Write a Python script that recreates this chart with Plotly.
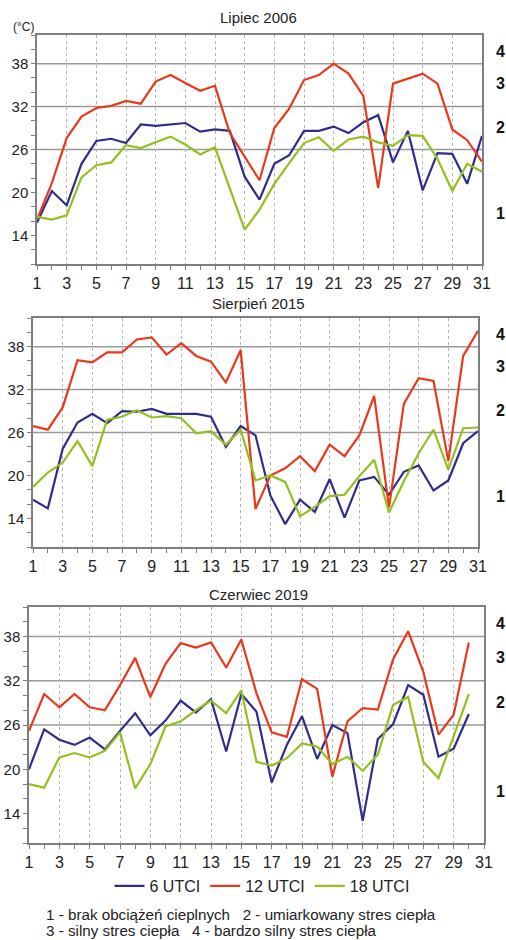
import plotly.graph_objects as go

# ---------------- data ----------------
days_31 = list(range(1, 32))
days_30 = list(range(1, 31))

series_names = ["6 UTCI", "12 UTCI", "18 UTCI"]
series_colors = ["#2e2d8c", "#e8391d", "#93c01f"]

panel_titles = ["Lipiec 2006", "Sierpień 2015", "Czerwiec 2019"]

jul06_6 = [15.8, 20.2, 18.2, 24.0, 27.2, 27.5, 26.9, 29.5, 29.3, 29.5, 29.7, 28.5, 28.8, 28.6, 22.2, 19.0,
           24.0, 25.2, 28.6, 28.6, 29.2, 28.3, 29.8, 30.8, 24.2, 28.6, 20.3, 25.5, 25.4, 21.2, 27.9]
jul06_12 = [16.2, 21.3, 27.6, 30.6, 31.8, 32.1, 32.8, 32.4, 35.5, 36.4, 35.3, 34.2, 34.9, 28.3, 25.0, 21.7,
            29.0, 31.7, 35.7, 36.4, 38.0, 36.6, 33.5, 20.6, 35.2, 35.9, 36.6, 35.2, 28.8, 27.3, 24.3]
jul06_18 = [16.6, 16.2, 16.8, 22.1, 23.8, 24.2, 26.6, 26.2, 27.0, 27.8, 26.7, 25.3, 26.3, 20.7, 14.8, 17.6,
            21.2, 24.1, 26.9, 27.7, 25.8, 27.4, 27.8, 27.0, 26.5, 28.0, 27.9, 24.7, 20.2, 24.0, 22.9]

aug15_6 = [16.6, 15.4, 23.7, 27.4, 28.6, 27.3, 29.0, 28.9, 29.3, 28.6, 28.6, 28.6, 28.2, 24.0, 26.9, 25.6,
           17.2, 13.2, 16.6, 14.9, 19.5, 14.1, 19.3, 19.8, 17.3, 20.5, 21.4, 17.9, 19.3, 24.5, 26.2]
aug15_12 = [26.9, 26.4, 29.5, 36.1, 35.8, 37.2, 37.2, 39.0, 39.3, 36.9, 38.5, 36.7, 35.9, 33.0, 37.5, 15.3,
            20.0, 21.0, 22.7, 20.6, 24.3, 22.7, 25.6, 31.1, 15.5, 30.0, 33.6, 33.2, 22.0, 36.7, 40.2]
aug15_18 = [18.4, 20.4, 21.8, 24.8, 21.3, 27.8, 28.2, 29.1, 28.1, 28.3, 28.0, 25.9, 26.2, 24.3, 26.4, 19.3,
            20.0, 19.1, 14.3, 15.6, 17.1, 17.3, 19.9, 22.2, 14.8, 19.2, 23.1, 26.4, 20.8, 26.6, 26.7]

jun19_6 = [20.0, 25.4, 24.0, 23.3, 24.3, 22.7, 25.2, 27.6, 24.6, 26.6, 29.3, 27.7, 29.5, 22.4, 30.2, 27.8,
           18.2, 23.3, 27.2, 21.4, 26.0, 24.9, 13.0, 24.1, 26.1, 31.4, 30.1, 21.7, 22.8, 27.5]
jun19_12 = [25.2, 30.2, 28.4, 30.2, 28.4, 28.0, 31.4, 35.1, 29.8, 34.3, 37.1, 36.5, 37.2, 33.8, 37.6, 30.3,
            25.0, 24.4, 32.2, 30.9, 19.0, 26.5, 28.3, 28.1, 34.9, 38.7, 33.2, 24.7, 27.4, 37.2]
jun19_18 = [18.0, 17.5, 21.6, 22.2, 21.6, 22.5, 25.0, 17.4, 20.7, 25.8, 26.5, 28.0, 29.3, 27.6, 30.7, 21.0,
            20.5, 21.5, 23.5, 23.1, 20.7, 21.7, 19.8, 22.0, 28.7, 29.8, 21.0, 18.8, 24.5, 30.2]

# UTCI class thresholds (grid lines) and class label positions
class_thresholds = [26, 32, 38]
class_labels = ["1", "2", "3", "4"]
class_label_levels = [17.0, 29.1, 35.2, 39.7]

x_tick_vals = list(range(1, 32, 2))
y_tick_vals = [14, 20, 26, 32, 38]

footnote_1 = "1 - brak obciążeń cieplnych \u00a0 2 - umiarkowany stres ciepła"
footnote_2 = "3 - silny stres ciepła \u00a0 4 - bardzo silny stres ciepła"

# ---------------- layout helpers ----------------
W, H = 506, 940
FONT = "Liberation Sans, Arial, sans-serif"


def px_x(p):
    return p / W


def px_y(p):
    return 1 - p / H


panels = [
    dict(days=days_31, vals=[jul06_6, jul06_12, jul06_18], box=(37, 482, 35, 264), title_y=18),
    dict(days=days_31, vals=[aug15_6, aug15_12, aug15_18], box=(33, 478, 318, 547), title_y=303),
    dict(days=days_30, vals=[jun19_6, jun19_12, jun19_18], box=(29, 484, 607, 843), title_y=594),
]

fig = go.Figure()
annotations = []
shapes = []

for i, p in enumerate(panels):
    n = "" if i == 0 else str(i + 1)
    xa, ya = "x" + n, "y" + n
    for k in range(3):
        fig.add_trace(go.Scatter(
            x=p["days"], y=p["vals"][k], mode="lines", name=series_names[k],
            line=dict(color=series_colors[k], width=2.2),
            xaxis=xa, yaxis=ya, showlegend=(i == 2),
        ))
    l, r, t, b = p["box"]
    axis_common = dict(
        showline=True, linecolor="#7f7f7f", linewidth=1.5, mirror=True,
        ticks="outside", ticklen=4, tickcolor="#7f7f7f", zeroline=False, automargin=False,
    )
    fig.layout["xaxis" + n] = dict(
        domain=[px_x(l), px_x(r)], range=[1, 31], anchor=ya,
        tickmode="array", tickvals=x_tick_vals,
        showgrid=True, gridcolor="#b5b5b5", griddash="dot", gridwidth=1,
        minor=dict(tickmode="linear", tick0=1, dtick=1, ticks="outside", ticklen=4,
                   tickcolor="#7f7f7f", showgrid=False),
        tickfont=dict(family=FONT, size=16, color="#222"),
        **axis_common,
    )
    fig.layout["yaxis" + n] = dict(
        domain=[px_y(b), px_y(t)], range=[10, 42], anchor=xa,
        tickmode="array", tickvals=y_tick_vals, showgrid=False,
        minor=dict(tickmode="linear", tick0=10, dtick=2, ticks="outside", ticklen=4,
                   tickcolor="#7f7f7f", showgrid=False),
        tickfont=dict(family=FONT, size=15, color="#222"),
        **axis_common,
    )
    for lev in class_thresholds:
        shapes.append(dict(type="line", xref=xa + " domain", yref=ya, x0=0, x1=1, y0=lev, y1=lev,
                           line=dict(color="#9a9a9a", width=1.5), layer="below"))
    for lab, lev in zip(class_labels, class_label_levels):
        annotations.append(dict(text="<b>" + lab + "</b>", xref="paper", yref=ya, x=px_x(500), y=lev,
                                xanchor="center", yanchor="middle", showarrow=False,
                                font=dict(family=FONT, size=16, color="#111")))
    annotations.append(dict(text=panel_titles[i], xref="paper", yref="paper", x=px_x(258), y=px_y(p["title_y"]),
                            xanchor="center", yanchor="middle", showarrow=False,
                            font=dict(family=FONT, size=15, color="#222")))

annotations.append(dict(text="(°C)", xref="paper", yref="paper", x=px_x(23), y=px_y(27),
                        xanchor="center", yanchor="middle", showarrow=False,
                        font=dict(family=FONT, size=12, color="#222")))
annotations.append(dict(text=footnote_1, xref="paper", yref="paper", x=px_x(44), y=px_y(914),
                        xanchor="left", yanchor="middle", showarrow=False,
                        font=dict(family=FONT, size=15.2, color="#222")))
annotations.append(dict(text=footnote_2, xref="paper", yref="paper", x=px_x(44), y=px_y(930.5),
                        xanchor="left", yanchor="middle", showarrow=False,
                        font=dict(family=FONT, size=15.2, color="#222")))

fig.update_layout(
    width=W, height=H, autosize=False,
    margin=dict(l=0, r=0, t=0, b=0),
    paper_bgcolor="white", plot_bgcolor="white",
    showlegend=True,
    legend=dict(orientation="h", x=px_x(262), xanchor="center", y=px_y(886), yanchor="middle",
                font=dict(family=FONT, size=16, color="#222"), itemwidth=30,
                bgcolor="rgba(0,0,0,0)", tracegroupgap=0),
    annotations=annotations,
    shapes=shapes,
)

fig.write_html("out.html", config={"displayModeBar": False, "responsive": False},
               post_script="document.body.style.margin='0';document.body.style.overflow='hidden';")
